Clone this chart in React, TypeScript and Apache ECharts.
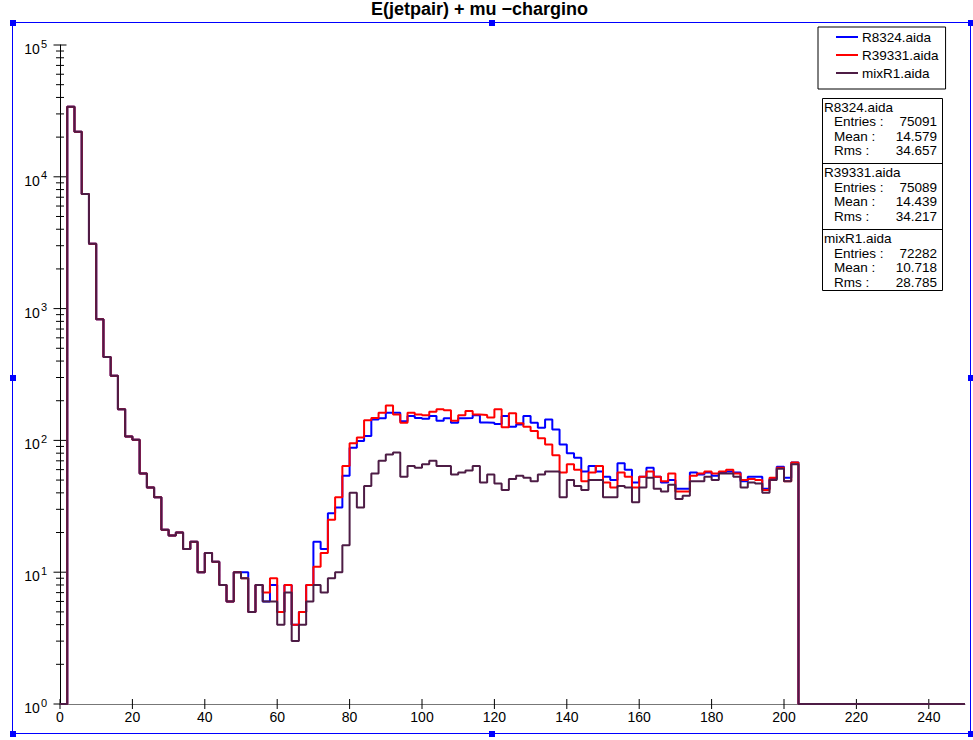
import React, { useEffect, useRef } from "react";
import * as echarts from "echarts";

const TITLE = "E(jetpair) + mu \u2212chargino";
const SERIES_NAMES = ["R8324.aida", "R39331.aida", "mixR1.aida"];
const SERIES_COLORS = ["#0000ff", "#ff0000", "#4d1c45"];

const BIN_WIDTH = 2;
const X_MIN = 0;
const X_MAX = 250;
const X_TICKS = [0, 20, 40, 60, 80, 100, 120, 140, 160, 180, 200, 220, 240];
const Y_MIN = 1;
const Y_MAX = 100000;
const Y_DECADES = [1, 10, 100, 1000, 10000, 100000];
const Y_MINOR_STEPS = [2, 3, 4, 5, 6, 7, 8, 9];

// bin contents, bins of width 2 starting at 0
const R8324 = [
  0, 34000, 22000, 7400, 3100, 830, 430, 310, 172, 107,
  101, 56, 44, 37, 21, 19, 20, 15, 17, 10,
  14, 12, 8, 6, 10, 10, 5, 8, 6, 8,
  5, 8, 4, 5, 8, 17, 15, 28, 31, 54,
  88, 99, 108, 144, 147, 162, 162, 140, 153, 148,
  146, 153, 141, 147, 136, 147, 148, 155, 137, 136,
  133, 153, 127, 132, 153, 136, 125, 144, 121, 93,
  80, 74, 58, 64, 58, 53, 50, 67, 60, 48,
  53, 62, 53, 48, 50, 43, 43, 57, 55, 57,
  54, 57, 58, 57, 49, 53, 53, 43, 51, 63,
  52, 68,
];
const R39331 = [
  0, 34000, 22000, 7400, 3100, 830, 430, 310, 172, 107,
  101, 56, 44, 37, 21, 19, 20, 15, 17, 10,
  14, 12, 8, 6, 10, 9, 5, 8, 7, 9,
  5, 8, 4, 5, 8, 11, 14, 25, 37, 64,
  95, 105, 142, 148, 162, 184, 157, 136, 162, 157,
  155, 165, 172, 169, 141, 155, 167, 157, 156, 149,
  172, 126, 161, 135, 127, 118, 104, 93, 77, 57,
  66, 60, 49, 57, 64, 48, 44, 57, 53, 44,
  53, 58, 53, 49, 56, 41, 41, 54, 56, 58,
  56, 58, 60, 56, 50, 51, 50, 42, 52, 62,
  49, 68,
];
const MIXR1 = [
  0, 34000, 22000, 7400, 3100, 830, 430, 310, 172, 107,
  101, 56, 44, 37, 21, 19, 20, 15, 17, 10,
  14, 12, 8, 6, 10, 9, 5, 8, 6, 6,
  4, 7, 3, 4, 6, 8, 7, 9, 10, 16,
  40, 31, 45, 56, 70, 78, 81, 53, 64, 62,
  66, 70, 64, 64, 55, 57, 59, 64, 48, 55,
  47, 42, 51, 54, 52, 49, 55, 58, 58, 37,
  50, 45, 42, 50, 50, 37, 37, 45, 44, 34,
  44, 52, 43, 41, 46, 36, 38, 49, 49, 53,
  50, 56, 56, 53, 44, 48, 47, 40, 50, 61,
  49, 66,
];
const SERIES_VALUES = [R8324, R39331, MIXR1];

const STATS_ENTRIES = ["75091", "75089", "72282"];
const STATS_MEAN = ["14.579", "14.439", "10.718"];
const STATS_RMS = ["34.657", "34.217", "28.785"];

const FONT = '"Liberation Sans", Arial, Helvetica, sans-serif';

function histPoints(values: number[]) {
  const pts: number[][] = values.map((v, i) => [X_MIN + i * BIN_WIDTH, Math.max(v, Y_MIN)]);
  pts.push([X_MIN + values.length * BIN_WIDTH, Y_MIN]);
  pts.push([X_MAX, Y_MIN]);
  return pts;
}

function tickData() {
  const d: number[][] = [];
  Y_DECADES.forEach((dec, i) => {
    d.push([X_MIN, dec, 6.5, 0]);
    if (i < Y_DECADES.length - 1) {
      Y_MINOR_STEPS.forEach((m) => d.push([X_MIN, dec * m, 4, 0]));
    }
  });
  X_TICKS.forEach((t) => d.push([t, Y_MIN, 5, 1]));
  return d;
}

export default function App() {
  const ref = useRef<HTMLDivElement>(null);

  useEffect(() => {
    if (!ref.current) return;
    const chart = echarts.init(ref.current, null, { renderer: "svg" });

    const lineSeries = SERIES_NAMES.map((name, i) => ({
      name,
      type: "line",
      step: "end",
      symbol: "none",
      showSymbol: false,
      clip: false,
      z: 3,
      data: histPoints(SERIES_VALUES[i]),
      lineStyle: { color: SERIES_COLORS[i], width: 2 },
      itemStyle: { color: SERIES_COLORS[i] },
    }));

    const ticks = {
      type: "custom",
      name: "ticks",
      silent: true,
      clip: false,
      z: 2,
      data: tickData(),
      renderItem: (_p: any, api: any) => {
        const p = api.coord([api.value(0), api.value(1)]);
        const s = api.value(2);
        const dir = api.value(3);
        const shape =
          dir === 0
            ? { x1: p[0] - s, y1: p[1], x2: p[0] + s, y2: p[1] }
            : { x1: p[0], y1: p[1] - s, x2: p[0], y2: p[1] + s };
        return { type: "line", shape, style: { stroke: "#000", lineWidth: 1 } };
      },
    };

    // stats box
    const SX0 = 822, SX1 = 942, SY0 = 98, SY1 = 290;
    const dividers = [163, 229];
    const lineY = [
      [107, 121.5, 136, 150.5],
      [172.5, 187, 201.5, 216],
      [238.5, 253, 267.5, 282],
    ];
    const statTxt = (text: string, x: number, y: number, align: string) => ({
      type: "text",
      x,
      y,
      style: {
        text,
        fill: "#000",
        font: `13.5px ${FONT}`,
        textAlign: align,
        textVerticalAlign: "middle",
      },
    });
    const statsEls: any[] = [
      {
        type: "rect",
        shape: { x: SX0 + 0.5, y: SY0 + 0.5, width: SX1 - SX0, height: SY1 - SY0 },
        style: { fill: "#fff", stroke: "#000", lineWidth: 1 },
      },
    ];
    dividers.forEach((y) =>
      statsEls.push({
        type: "line",
        shape: { x1: SX0, y1: y + 0.5, x2: SX1, y2: y + 0.5 },
        style: { stroke: "#000", lineWidth: 1 },
      })
    );
    SERIES_NAMES.forEach((name, i) => {
      const ys = lineY[i];
      statsEls.push(statTxt(name, 824, ys[0], "left"));
      statsEls.push(statTxt("Entries :", 834, ys[1], "left"));
      statsEls.push(statTxt(STATS_ENTRIES[i], 937, ys[1], "right"));
      statsEls.push(statTxt("Mean :", 834, ys[2], "left"));
      statsEls.push(statTxt(STATS_MEAN[i], 937, ys[2], "right"));
      statsEls.push(statTxt("Rms :", 834, ys[3], "left"));
      statsEls.push(statTxt(STATS_RMS[i], 937, ys[3], "right"));
    });

    // blue selection frame with handles
    const FX0 = 12.5, FX1 = 970.5, FY0 = 22.5, FY1 = 733.5;
    const handles: number[][] = [
      [FX0, FY0], [(FX0 + FX1) / 2, FY0], [FX1, FY0],
      [FX0, (FY0 + FY1) / 2], [FX1, (FY0 + FY1) / 2],
      [FX0, FY1], [(FX0 + FX1) / 2, FY1], [FX1, FY1],
    ];
    const frameEls: any[] = [
      {
        type: "rect",
        z: 100,
        shape: { x: FX0, y: FY0, width: FX1 - FX0, height: FY1 - FY0 },
        style: { fill: "none", stroke: "#0000ff", lineWidth: 1 },
      },
      ...handles.map(([x, y]) => ({
        type: "rect",
        z: 101,
        shape: { x: Math.round(x) - 3, y: Math.round(y) - 3, width: 6, height: 6 },
        style: { fill: "#0000ff" },
      })),
    ];

    chart.setOption({
      animation: false,
      backgroundColor: "#fff",
      title: {
        text: TITLE,
        left: 371,
        top: 0,
        padding: 0,
        textStyle: { fontSize: 18, fontWeight: "bold", fontFamily: FONT, color: "#000" },
      },
      grid: { left: 60, right: 8, top: 45, bottom: 36, containLabel: false },
      xAxis: {
        type: "value",
        min: X_MIN,
        max: X_MAX,
        interval: 20,
        axisLine: { show: true, onZero: false, lineStyle: { color: "#777", width: 1 } },
        axisTick: { show: false },
        splitLine: { show: false },
        axisLabel: {
          showMaxLabel: false,
          margin: 6,
          fontSize: 14,
          fontFamily: FONT,
          color: "#000",
        },
      },
      yAxis: {
        type: "log",
        logBase: 10,
        min: Y_MIN,
        max: Y_MAX,
        axisLine: { show: true, onZero: false, lineStyle: { color: "#000", width: 1 } },
        axisTick: { show: false },
        splitLine: { show: false },
        minorTick: { show: false },
        axisLabel: {
          margin: 13,
          formatter: (v: number) => `{b|10}{e|${Math.round(Math.log10(v))}}`,
          rich: {
            b: { fontSize: 14, fontFamily: FONT, color: "#000", lineHeight: 14, padding: [8, 0, 0, 0] },
            e: { fontSize: 11, fontFamily: FONT, color: "#000", lineHeight: 11, verticalAlign: "top", padding: [0, 0, 0, 1] },
          },
        },
      },
      legend: {
        data: SERIES_NAMES,
        orient: "vertical",
        left: 818,
        top: 27,
        padding: [3, 7, 9, 18],
        itemGap: 4,
        itemWidth: 22,
        itemHeight: 2,
        icon: "rect",
        backgroundColor: "#fff",
        borderColor: "#000",
        borderWidth: 1,
        borderRadius: 0,
        textStyle: { fontSize: 13.5, fontFamily: FONT, color: "#000", padding: [0, 0, 0, -1] },
        selectedMode: false,
      },
      series: [ticks, ...lineSeries],
      graphic: [...statsEls, ...frameEls],
    });

    return () => chart.dispose();
  }, []);

  return (
    <div
      ref={ref}
      style={{ position: "fixed", left: 0, top: 0, width: 973, height: 740, background: "#fff" }}
    />
  );
}
